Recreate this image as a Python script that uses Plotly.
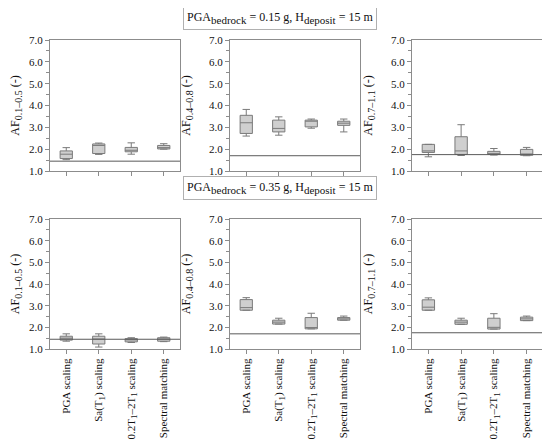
import plotly.graph_objects as go
from plotly.subplots import make_subplots


def sub(s, px):
    # near full size subscript, like the reference
    return f"<sub><span style='font-size:{px}px'>{s}</span></sub>"


categories = [
    "PGA scaling",
    "Sa(T" + sub("1", 9) + ") scaling",
    "0.2T" + sub("1", 9) + "–2T" + sub("1", 9) + " scaling",
    "Spectral matching",
]
y_titles = [
    "AF" + sub("0.1–0.5", 10) + " (-)",
    "AF" + sub("0.4–0.8", 10) + " (-)",
    "AF" + sub("0.7–1.1", 10) + " (-)",
]
row_headers = [
    "PGA" + sub("bedrock", 11) + " = 0.15 g, H" + sub("deposit", 11) + " = 15 m",
    "PGA" + sub("bedrock", 11) + " = 0.35 g, H" + sub("deposit", 11) + " = 15 m",
]
# horizontal reference line per column (period range)
ref_lines = [1.45, 1.70, 1.75]

# PGA_bedrock = 0.15 g : one inner list per period range, one value per method
lower_015 = [[1.52, 1.76, 1.77, 2.00], [2.60, 2.64, 2.96, 2.79], [1.65, 1.71, 1.73, 1.70]]
q1_015 = [[1.57, 1.80, 1.88, 2.01], [2.72, 2.79, 3.02, 3.09], [1.85, 1.76, 1.76, 1.72]]
median_015 = [[1.77, 2.17, 1.95, 2.07], [3.21, 2.95, 3.28, 3.19], [1.92, 1.92, 1.80, 1.78]]
q3_015 = [[1.92, 2.24, 2.08, 2.17], [3.55, 3.33, 3.33, 3.28], [2.22, 2.57, 1.90, 1.99]]
upper_015 = [[2.07, 2.28, 2.29, 2.25], [3.82, 3.48, 3.38, 3.38], [2.22, 3.12, 2.03, 2.08]]

# PGA_bedrock = 0.35 g
lower_035 = [[1.36, 1.09, 1.30, 1.34], [2.79, 2.15, 1.93, 2.33], [2.79, 2.14, 1.92, 2.31]]
q1_035 = [[1.41, 1.23, 1.33, 1.36], [2.79, 2.15, 1.93, 2.33], [2.79, 2.14, 1.92, 2.31]]
median_035 = [[1.50, 1.46, 1.42, 1.46], [2.91, 2.24, 1.99, 2.39], [2.93, 2.24, 2.00, 2.39]]
q3_035 = [[1.59, 1.59, 1.48, 1.52], [3.28, 2.33, 2.45, 2.45], [3.27, 2.33, 2.42, 2.47]]
upper_035 = [[1.70, 1.70, 1.52, 1.55], [3.37, 2.42, 2.65, 2.52], [3.36, 2.42, 2.63, 2.52]]

rows = [
    (lower_015, q1_015, median_015, q3_015, upper_015),
    (lower_035, q1_035, median_035, q3_035, upper_035),
]

# the page body has an 8px margin, so the figure is drawn 8px in and 8px smaller
PAD = 8
W, H = 550 - PAD, 448 - PAD
serif = "Liberation Serif, Times New Roman, serif"
x_dom = [(50, 180), (230, 360), (412, 543)]  # window pixels
y_dom = [(40, 171), (219, 349)]
header_y = [18, 188]
axis_grey = "#8c8c8c"


def px_x(v):
    return (v - PAD) / W


def px_y(v):
    return 1 - (v - PAD) / H


fig = make_subplots(rows=2, cols=3)

for r, stats in enumerate(rows):
    lo, q1, med, q3, hi = stats
    for c in range(3):
        n = r * 3 + c + 1
        fig.add_trace(
            go.Box(
                x=categories,
                lowerfence=lo[c],
                q1=q1[c],
                median=med[c],
                q3=q3[c],
                upperfence=hi[c],
                fillcolor="#cfcfcf",
                line=dict(color="#7a7a7a", width=1),
                whiskerwidth=0.6,
                boxpoints=False,
                showlegend=False,
            ),
            row=r + 1,
            col=c + 1,
        )
        fig.add_shape(
            type="line",
            xref="x domain" if n == 1 else f"x{n} domain",
            yref="y" if n == 1 else f"y{n}",
            x0=0, x1=1, y0=ref_lines[c], y1=ref_lines[c],
            line=dict(color="#5a5a5a", width=1),
        )
        fig.update_xaxes(
            domain=[px_x(x_dom[c][0]), px_x(x_dom[c][1])],
            automargin=False,
            showline=True, mirror=True, linecolor=axis_grey, linewidth=1,
            ticks="outside", ticklen=4, tickcolor=axis_grey,
            showticklabels=(r == 1), tickangle=-90,
            tickfont=dict(family=serif, size=11, color="#111"),
            showgrid=False, zeroline=False,
            row=r + 1, col=c + 1,
        )
        fig.update_yaxes(
            domain=[px_y(y_dom[r][1]), px_y(y_dom[r][0])],
            automargin=False,
            range=[1, 7], dtick=1, tickformat=".1f",
            showline=True, mirror=True, linecolor=axis_grey, linewidth=1,
            ticks="outside", ticklen=4, tickcolor=axis_grey,
            minor=dict(dtick=0.5, ticks="outside", ticklen=3, tickcolor=axis_grey),
            tickfont=dict(family=serif, size=11, color="#111"),
            title=dict(text=y_titles[c], font=dict(family=serif, size=12, color="#111")),
            showgrid=False, zeroline=False,
            row=r + 1, col=c + 1,
        )

for r, text in enumerate(row_headers):
    fig.add_annotation(
        text=text, xref="paper", yref="paper",
        x=px_x(280), y=px_y(header_y[r]),
        xanchor="center", yanchor="middle",
        showarrow=False, font=dict(family=serif, size=12, color="#111"),
        bordercolor="#b0b0b0", borderwidth=1, borderpad=3, bgcolor="white",
    )

fig.update_layout(
    width=W, height=H,
    margin=dict(l=0, r=0, t=0, b=0),
    plot_bgcolor="white", paper_bgcolor="white",
    boxgap=0.46,
)

fig.write_html("out.html")
